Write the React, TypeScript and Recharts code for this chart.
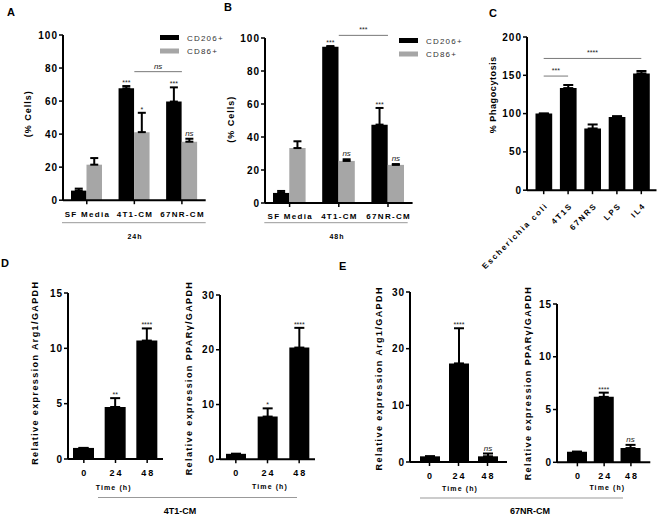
import React from 'react';
import { BarChart, Bar, XAxis, YAxis, ErrorBar, LabelList, ReferenceLine, Legend } from 'recharts';

const FONT = "'Liberation Sans', Arial, sans-serif";
const BLACK = '#000000';
const GREY = '#a6a6a6';

// A / B: % cells, CD206+ vs CD86+
const cmGroups = ['SF Media', '4T1-CM', '67NR-CM'];
const cd206At24h = [5.8, 67.7, 59.7];
const cd206At24hErr = [1.2, 1.4, 8.6];
const cd206At24hSig = ['', '***', '***'];
const cd86At24h = [21.5, 41.2, 35.4];
const cd86At24hErr = [4.0, 11.7, 1.8];
const cd86At24hSig = ['', '*', 'ns'];

const cd206At48h = [6.1, 94.7, 47.5];
const cd206At48hErr = [1.2, 0.4, 10.1];
const cd206At48hSig = ['', '***', '***'];
const cd86At48h = [33.3, 25.5, 23.1];
const cd86At48hErr = [4.1, 1.0, 0.5];
const cd86At48hSig = ['', 'ns', 'ns'];

// C: phagocytosis
const phagoGroups = ['Escherichia coli', '4T1S', '67NRS', 'LPS', 'IL4'];
const phagocytosis = [100, 133.3, 80.6, 95.4, 152.5];
const phagocytosisErr = [0, 4.0, 5.2, 1.3, 3.1];

// D / E: relative expression over time
const hours = ['0', '24', '48'];
const arg1In4T1 = [1, 4.7, 10.7];
const arg1In4T1Err = [0, 0.8, 1.1];
const arg1In4T1Sig = ['', '**', '****'];
const pparIn4T1 = [1, 7.8, 20.4];
const pparIn4T1Err = [0, 1.5, 3.6];
const pparIn4T1Sig = ['', '*', '****'];
const arg1In67NR = [1, 17.4, 1.0];
const arg1In67NRErr = [0, 6.2, 0.5];
const arg1In67NRSig = ['', '****', 'ns'];
const pparIn67NR = [1, 6.2, 1.35];
const pparIn67NRErr = [0, 0.4, 0.3];
const pparIn67NRSig = ['', '****', 'ns'];

const pctTicks = [0, 20, 40, 60, 80, 100];
const phagoTicks = [0, 50, 100, 150, 200];
const ticks15 = [0, 5, 10, 15];
const ticks30 = [0, 10, 20, 30];

type Series = { key: string; name: string; color: string; values: number[]; err: number[]; sig?: string[] };
type Bracket = { from: string; to: string; y: number; text: string };

type PanelProps = {
  x0: number; x1: number; yTop: number; yb: number;
  cats: string[]; series: Series[];
  yMax: number; ticks: number[];
  barSize: number; padL?: number; padR?: number;
  yLabel: string; yLabelAt: [number, number]; yLabelSize?: number; yLabelSpacing?: number;
  xLabel?: string; xLabelAt?: [number, number];
  xTickSize?: number; xTickSpacing?: number; rotateTicks?: boolean;
  capWidth?: number;
  brackets?: Bracket[];
  legendAt?: [number, number];
};

const ML = 60, MT = 30, MR = 14, YW = 30;

// star / ns text, styled like the GraphPad annotations
function sigText(txt: string, x: number, y: number) {
  const isNs = txt === 'ns';
  return (
    <text
      x={x}
      y={y}
      textAnchor="middle"
      fontFamily={FONT}
      fontStyle={isNs ? 'italic' : 'normal'}
      fontSize={isNs ? 8 : 7}
      fill="#1a1a1a"
      stroke="none"
    >
      {txt}
    </text>
  );
}

function sigContent(s: Series) {
  return function SigLabel(p: any) {
    const vb = p.viewBox ?? p;
    const i = p.index ?? s.values.indexOf(p.value);
    const txt = s.sig ? s.sig[i] : '';
    if (!txt || vb == null || vb.y == null) return null;
    const v = s.values[i];
    const top = vb.y - (s.err[i] * Math.abs(vb.height)) / v;
    return sigText(txt, vb.x + vb.width / 2, top - (txt === 'ns' ? 3 : 1));
  };
}

function bracketLabel(text: string) {
  return function BracketText(p: any) {
    const vb = p.viewBox;
    if (!vb) return null;
    return sigText(text, vb.x + vb.width / 2, vb.y - 3);
  };
}

function legendContent(p: any) {
  const items = p.payload ?? [];
  return (
    <svg width={80} height={30}>
      {items.map((it: any, i: number) => (
        <g key={i}>
          <rect x={2} y={3 + i * 13.5} width={19} height={5} fill={it.color} />
          <text x={29} y={8.8 + i * 13.5} fontFamily={FONT} fontSize={8} letterSpacing={1.2} fill="#333">
            {it.value}
          </text>
        </g>
      ))}
    </svg>
  );
}

function Panel(props: PanelProps) {
  const {
    x0, x1, yTop, yb, cats, series, yMax, ticks, barSize, padL = 0, padR = 0,
    yLabel, yLabelAt, yLabelSize = 9, yLabelSpacing = 1, xLabel, xLabelAt,
    xTickSize = 8, xTickSpacing = 1.3, rotateTicks, capWidth = 4, brackets = [], legendAt,
  } = props;
  const MB = rotateTicks ? 80 : 45;
  const left = x0 - ML;
  const top = yTop - MT;
  const width = x1 - x0 + ML + MR;
  const height = yb - yTop + MT + MB;
  const rx = (X: number) => X - left;
  const ry = (Y: number) => Y - top;

  const data = cats.map((c, i) => {
    const row: Record<string, any> = { name: c };
    series.forEach((s) => {
      row[s.key] = s.values[i];
      row[s.key + 'Err'] = [0, s.err[i]];
    });
    return row;
  });

  const yTick = (p: any) => (
    <text x={p.x + 1} y={p.y} dy={3.6} textAnchor="end" fontFamily={FONT} fontWeight="bold" fontSize={10} letterSpacing={1} fill="#000">
      {p.payload.value}
    </text>
  );
  const xTick = (p: any) => (
    <text x={p.x + xTickSpacing / 2} y={p.y} dy={10.5} textAnchor="middle" fontFamily={FONT} fontWeight="bold" fontSize={xTickSize} letterSpacing={xTickSpacing} fill="#000">
      {p.payload.value}
    </text>
  );
  const rotTick = (p: any) => {
    const ax = p.x + 5;
    const ay = p.y + 10;
    return (
      <text x={ax} y={ay} transform={`rotate(-45 ${ax} ${ay})`} textAnchor="end" fontFamily={FONT} fontWeight="bold" fontSize={8} letterSpacing={1.8} fill="#000">
        {p.payload.value}
      </text>
    );
  };
  const yLab = () => (
    <text
      transform={`translate(${rx(yLabelAt[0]) + yLabelSize * 0.36} ${ry(yLabelAt[1])}) rotate(-90)`}
      textAnchor="middle"
      fontFamily={FONT}
      fontWeight="bold"
      fontSize={yLabelSize}
      letterSpacing={yLabelSpacing}
      fill="#000"
    >
      {yLabel}
    </text>
  );
  const xLab = () =>
    xLabel && xLabelAt ? (
      <text x={rx(xLabelAt[0])} y={ry(xLabelAt[1]) + 2.5} textAnchor="middle" fontFamily={FONT} fontWeight="bold" fontSize={7} letterSpacing={1.1} fill="#000">
        {xLabel}
      </text>
    ) : null;

  return (
    <div style={{ position: 'absolute', left, top, width, height }}>
      <BarChart
        width={width}
        height={height}
        data={data}
        margin={{ top: MT, right: MR, left: ML - YW, bottom: 5 }}
        barGap={0}
        barSize={barSize}
      >
        <XAxis
          dataKey="name"
          interval={0}
          height={MB - 5}
          padding={{ left: padL, right: padR }}
          axisLine={{ stroke: BLACK, strokeWidth: 2 }}
          tickLine={{ stroke: BLACK, strokeWidth: 1.5 }}
          tickSize={4}
          tickMargin={2}
          tick={rotateTicks ? rotTick : xTick}
          label={xLab}
        />
        <YAxis
          type="number"
          width={YW}
          domain={[0, yMax]}
          ticks={ticks}
          interval={0}
          axisLine={{ stroke: BLACK, strokeWidth: 2 }}
          tickLine={{ stroke: BLACK, strokeWidth: 1.5 }}
          tickSize={4}
          tickMargin={2}
          tick={yTick}
          label={yLab}
        />
        {legendAt && (
          <Legend
            layout="vertical"
            align="center"
            verticalAlign="middle"
            wrapperStyle={{ left: rx(legendAt[0]), top: ry(legendAt[1]), width: 80, height: 30 }}
            content={legendContent}
          />
        )}
        {brackets.map((b, i) => (
          <ReferenceLine
            key={i}
            segment={[{ x: b.from, y: b.y }, { x: b.to, y: b.y }]}
            stroke="#777"
            strokeWidth={1}
            ifOverflow="visible"
            label={bracketLabel(b.text)}
          />
        ))}
        {series.map((s) => (
          <Bar key={s.key} dataKey={s.key} name={s.name} fill={s.color} isAnimationActive={false}>
            <ErrorBar dataKey={s.key + 'Err'} direction="y" width={capWidth} stroke={BLACK} strokeWidth={2} isAnimationActive={false} />
            {s.sig && <LabelList dataKey={s.key} content={sigContent(s)} />}
          </Bar>
        ))}
      </BarChart>
    </div>
  );
}

function Overlay() {
  const letter = (t: string, x: number, y: number) => (
    <text x={x} y={y} fontFamily={FONT} fontWeight="bold" fontSize={11} fill="#000">{t}</text>
  );
  const small = (t: string, x: number, y: number) => (
    <text x={x} y={y} textAnchor="middle" fontFamily={FONT} fontWeight="bold" fontSize={7} letterSpacing={1} fill="#000">{t}</text>
  );
  const group = (t: string, x: number, y: number) => (
    <text x={x} y={y} textAnchor="middle" fontFamily={FONT} fontWeight="bold" fontSize={9} fill="#000">{t}</text>
  );
  return (
    <svg width={660} height={514} style={{ position: 'absolute', left: 0, top: 0, pointerEvents: 'none' }}>
      {letter('A', 7, 15.5)}
      {letter('B', 224, 10.5)}
      {letter('C', 489, 17)}
      {letter('D', 1, 267)}
      {letter('E', 339, 269.5)}
      <line x1={62} y1={222.7} x2={205.7} y2={222.7} stroke="#999" strokeWidth={1} />
      <line x1={264.3} y1={222.7} x2={407.7} y2={222.7} stroke="#999" strokeWidth={1} />
      {small('24h', 135, 238.5)}
      {small('48h', 337, 238.5)}
      <line x1={98} y1={497.5} x2={297} y2={497.5} stroke="#999" strokeWidth={1} />
      <line x1={420} y1={498} x2={623} y2={498} stroke="#999" strokeWidth={1} />
      {group('4T1-CM', 180, 513.5)}
      {group('67NR-CM', 530, 513.5)}
    </svg>
  );
}

export default function App() {
  return (
    <div style={{ position: 'absolute', left: 0, top: 0, width: 660, height: 514, background: '#fff', overflow: 'hidden' }}>
      <Panel
        x0={63.3} x1={206} yTop={35.3} yb={200.5}
        cats={cmGroups}
        series={[
          { key: 'cd206', name: 'CD206+', color: BLACK, values: cd206At24h, err: cd206At24hErr, sig: cd206At24hSig },
          { key: 'cd86', name: 'CD86+', color: GREY, values: cd86At24h, err: cd86At24hErr, sig: cd86At24hSig },
        ]}
        yMax={100} ticks={pctTicks} barSize={15.5}
        yLabel="(% Cells)" yLabelAt={[28.5, 114]}
        brackets={[{ from: '4T1-CM', to: '67NR-CM', y: 77.8, text: 'ns' }]}
        legendAt={[158, 32]}
      />
      <Panel
        x0={264.8} x1={412.4} yTop={37.7} yb={202.7}
        cats={cmGroups}
        series={[
          { key: 'cd206', name: 'CD206+', color: BLACK, values: cd206At48h, err: cd206At48hErr, sig: cd206At48hSig },
          { key: 'cd86', name: 'CD86+', color: GREY, values: cd86At48h, err: cd86At48hErr, sig: cd86At48hSig },
        ]}
        yMax={100} ticks={pctTicks} barSize={16.3}
        yLabel="(% Cells)" yLabelAt={[230.5, 119]}
        brackets={[{ from: '4T1-CM', to: '67NR-CM', y: 101.6, text: '***' }]}
        legendAt={[397, 35]}
      />
      <Panel
        x0={526.5} x1={656} yTop={37.3} yb={190.5}
        cats={phagoGroups}
        series={[{ key: 'phago', name: '% Phagocytosis', color: BLACK, values: phagocytosis, err: phagocytosisErr }]}
        yMax={200} ticks={phagoTicks} barSize={16.7} padL={4.5} padR={3}
        yLabel="% Phagocytosis" yLabelAt={[492, 95]} yLabelSpacing={0.6}
        rotateTicks capWidth={5}
        brackets={[
          { from: 'Escherichia coli', to: '4T1S', y: 149, text: '***' },
          { from: 'Escherichia coli', to: 'IL4', y: 172, text: '****' },
        ]}
      />
      <Panel
        x0={68.3} x1={163.3} yTop={293.3} yb={459.3}
        cats={hours}
        series={[{ key: 'arg1', name: 'Arg1', color: BLACK, values: arg1In4T1, err: arg1In4T1Err, sig: arg1In4T1Sig }]}
        yMax={15} ticks={ticks15} barSize={21} capWidth={5}
        xTickSize={9} xTickSpacing={2}
        yLabel="Relative expression Arg1/GAPDH" yLabelAt={[35, 373]} yLabelSpacing={1.4}
        xLabel="Time (h)" xLabelAt={[114, 488]}
      />
      <Panel
        x0={220} x1={315} yTop={295} yb={459.3}
        cats={hours}
        series={[{ key: 'ppar', name: 'PPARγ', color: BLACK, values: pparIn4T1, err: pparIn4T1Err, sig: pparIn4T1Sig }]}
        yMax={30} ticks={ticks30} barSize={20} capWidth={5}
        xTickSize={9} xTickSpacing={2}
        yLabel="Relative expression PPARγ/GAPDH" yLabelAt={[188.5, 378]} yLabelSpacing={1.4}
        xLabel="Time (h)" xLabelAt={[270, 487]}
      />
      <Panel
        x0={410} x1={507} yTop={291.7} yb={461.7}
        cats={hours}
        series={[{ key: 'arg1', name: 'Arg1', color: BLACK, values: arg1In67NR, err: arg1In67NRErr, sig: arg1In67NRSig }]}
        yMax={30} ticks={ticks30} barSize={20} padL={5} padR={5} capWidth={5}
        xTickSize={9} xTickSpacing={2}
        yLabel="Relative expression Arg1/GAPDH" yLabelAt={[379, 378]} yLabelSpacing={1.4}
        xLabel="Time (h)" xLabelAt={[460, 488]}
      />
      <Panel
        x0={556.7} x1={650} yTop={304} yb={462.3}
        cats={hours}
        series={[{ key: 'ppar', name: 'PPARγ', color: BLACK, values: pparIn67NR, err: pparIn67NRErr, sig: pparIn67NRSig }]}
        yMax={15} ticks={ticks15} barSize={20} padL={7} padR={6} capWidth={5}
        xTickSize={9} xTickSpacing={2}
        yLabel="Relative expression PPARγ/GAPDH" yLabelAt={[527, 383]} yLabelSpacing={1.4}
        xLabel="Time (h)" xLabelAt={[607, 488]}
      />
      <Overlay />
    </div>
  );
}
